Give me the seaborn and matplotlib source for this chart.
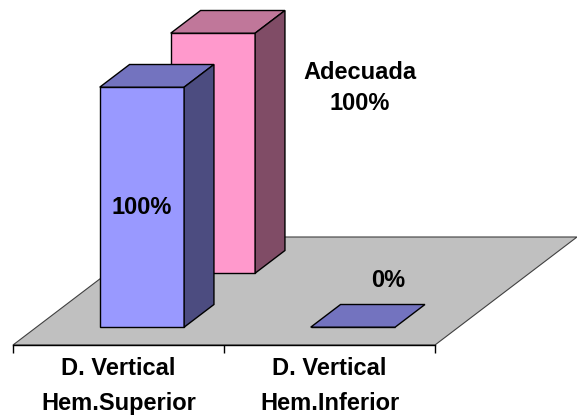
import numpy as np
import matplotlib.pyplot as plt
from matplotlib.patches import Polygon
import seaborn as sns

# datos del grafico
categorias = ['D. Vertical\nHem.Superior', 'D. Vertical\nHem.Inferior']
hem_valores = [1.0, 0.0]          # serie delantera (azul)
adecuada_valores = [1.0, np.nan]  # serie trasera (rosa)
etiqueta_adecuada = 'Adecuada\n100%'

sns.set_theme(style='white')
plt.rcParams['font.family'] = ['Liberation Sans', 'DejaVu Sans']
plt.rcParams['font.weight'] = 'bold'
plt.rcParams['text.color'] = 'black'
plt.rcParams['xtick.color'] = 'black'

fig = plt.figure(figsize=(5.77, 4.15), dpi=100)
ax = fig.add_axes([0, 0, 1, 1])
ax.set_facecolor('white')

# desplazamiento oblicuo por unidad de profundidad (en unidades de datos)
kx, ky = 71 / 211, 54 / 240
prof_barra = 0.42
tam = 17

series = {
    'adecuada': (adecuada_valores, 1.33, ('#FF99CC', '#C0779A', '#804C66'), 2),
    'hem': (hem_valores, 0.33, ('#9999FF', '#7373BF', '#4C4C80'), 4),
}

barras = {}
for nombre, (vals, d0, (c_frente, c_techo, c_lado), z) in series.items():
    n0 = len(ax.patches)
    sns.barplot(x=categorias, y=vals, order=categorias, color=c_frente,
                saturation=1, width=0.4, edgecolor='black', linewidth=1, ax=ax)
    nuevas = list(ax.patches[n0:])
    barras[nombre] = nuevas
    for p in nuevas:
        x, w, h = p.get_x(), p.get_width(), p.get_height()
        if np.isnan(h):
            continue
        x0, y0 = x + d0 * kx, d0 * ky
        p.set_x(x0)
        p.set_y(y0)
        p.set_zorder(z)
        bx, by = prof_barra * kx, prof_barra * ky
        techo = Polygon([(x0, y0 + h), (x0 + w, y0 + h), (x0 + w + bx, y0 + h + by),
                         (x0 + bx, y0 + h + by)], closed=True, fc=c_techo,
                        ec='black', lw=1, zorder=z)
        ax.add_patch(techo)
        if h > 0:
            lado = Polygon([(x0 + w, y0), (x0 + w + bx, y0 + by), (x0 + w + bx, y0 + h + by),
                            (x0 + w, y0 + h)], closed=True, fc=c_lado,
                           ec='black', lw=1, zorder=z)
            ax.add_patch(lado)

# piso gris
piso = Polygon([(-0.5, 0), (1.5, 0), (1.5 + 2 * kx, 2 * ky), (-0.5 + 2 * kx, 2 * ky)],
               closed=True, fc='#C0C0C0', ec='#404040', lw=0.8, zorder=0)
ax.add_patch(piso)

# etiquetas de datos
p_sup = barras['hem'][0]
ax.text(p_sup.get_x() + p_sup.get_width() / 2, p_sup.get_y() + p_sup.get_height() / 2,
        f'{hem_valores[0]:.0%}', ha='center', va='center', fontsize=tam,
        fontweight='bold', zorder=6)
ax.text(1.145, 1.07, etiqueta_adecuada, ha='center', va='center', fontsize=tam,
        fontweight='bold', linespacing=1.45, zorder=6)
ax.text(1.277, 0.27, f'{hem_valores[1]:.0%}', ha='center', va='center',
        fontsize=tam, fontweight='bold', zorder=6)

# eje de categorias
ax.set_xlim(-0.5 - 13 / 211, -0.5 + 564 / 211)
ax.set_ylim((345 - 415) / 240, 345 / 240)
ax.set_xticks([0, 1])
ax.set_xticklabels([])
ax.set_xticks([-0.5, 0.5, 1.5], minor=True)
ax.tick_params(axis='x', which='major', length=0)
ax.tick_params(axis='x', which='minor', length=6, width=1, direction='out',
               color='black', bottom=True)
for i, cat in enumerate(categorias):
    ax.text(i, -0.052, cat, ha='center', va='top', fontsize=tam,
            fontweight='bold', linespacing=1.62)
ax.set_yticks([])
ax.set_xlabel('')
ax.set_ylabel('')
for lado in ['left', 'top', 'right']:
    ax.spines[lado].set_visible(False)
ax.spines['bottom'].set_position(('data', 0))
ax.spines['bottom'].set_bounds(-0.5, 1.5)
ax.spines['bottom'].set_color('black')
ax.spines['bottom'].set_linewidth(1)
ax.spines['bottom'].set_zorder(1)

fig.savefig('out.png', dpi=100)
